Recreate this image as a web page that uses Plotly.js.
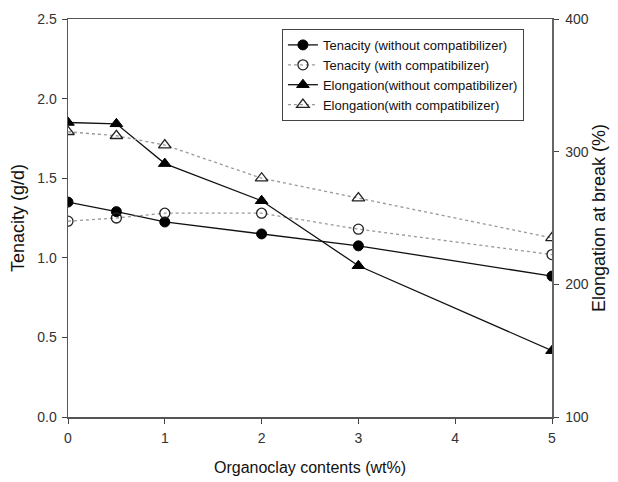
<!DOCTYPE html>
<html>
<head>
<meta charset="utf-8">
<script src="https://cdn.plot.ly/plotly-3.0.1.min.js"></script>
<style>html,body{margin:0;padding:0;background:#fff;}#chart{width:618px;height:482px;}</style>
</head>
<body>
<div id="chart"></div>
<script>
const contents = [0, 0.5, 1, 2, 3, 5];
const tenacityWithout = [1.35, 1.29, 1.225, 1.15, 1.075, 0.885];
const tenacityWith = [1.23, 1.25, 1.28, 1.28, 1.18, 1.02];
const elongationWithout = [322, 321, 291, 263, 214, 150];
const elongationWith = [315, 312, 305, 280, 265, 235];
const seriesNames = [
  'Tenacity (without compatibilizer)',
  'Tenacity (with compatibilizer)',
  'Elongation(without compatibilizer)',
  'Elongation(with compatibilizer)'
];

const solid = {color: '#111', width: 1.3, dash: 'solid'};
const dotted = {color: '#999', width: 1.3, dash: 'dot'};

const traces = [
  {x: contents, y: tenacityWithout, name: seriesNames[0], mode: 'lines+markers', yaxis: 'y',
   line: solid, marker: {symbol: 'circle', size: 10, color: '#000', line: {color: '#000', width: 1}}},
  {x: contents, y: tenacityWith, name: seriesNames[1], mode: 'lines+markers', yaxis: 'y',
   line: dotted, marker: {symbol: 'circle-open', size: 10, color: '#222', line: {color: '#222', width: 1.3}}},
  {x: contents, y: elongationWithout, name: seriesNames[2], mode: 'lines+markers', yaxis: 'y2',
   line: solid, marker: {symbol: 'triangle-up', size: 11, color: '#000', line: {color: '#000', width: 1}}},
  {x: contents, y: elongationWith, name: seriesNames[3], mode: 'lines+markers', yaxis: 'y2',
   line: dotted, marker: {symbol: 'triangle-up-open', size: 11, color: '#222', line: {color: '#222', width: 1.3}}}
];

const fam = 'Liberation Sans, Arial, sans-serif';
const axisFont = {family: fam, size: 14, color: '#333'};
const yTitleFont = {family: fam, size: 18, color: '#111'};
const xTitleFont = {family: fam, size: 16, color: '#111'};

const layout = {
  width: 618, height: 482,
  margin: {l: 68, r: 66, t: 19, b: 65},
  paper_bgcolor: '#fff', plot_bgcolor: '#fff',
  showlegend: true,
  font: axisFont,
  xaxis: {
    range: [0, 5], tickvals: [0, 1, 2, 3, 4, 5], ticks: 'outside', ticklen: 5, tickwidth: 1, tickcolor: '#444',
    ticklabelstandoff: 3,
    showgrid: false, zeroline: false, showline: true, linecolor: '#555', linewidth: 1.5, mirror: true,
    tickfont: axisFont, title: {text: 'Organoclay contents (wt%)', font: xTitleFont, standoff: 16}
  },
  yaxis: {
    range: [0, 2.5], tickvals: [0, 0.5, 1, 1.5, 2, 2.5], tickformat: '.1f', ticks: 'outside', ticklen: 5, tickwidth: 1, tickcolor: '#444',
    ticklabelstandoff: 2,
    showgrid: false, zeroline: false, showline: true, linecolor: '#555', linewidth: 1.5,
    tickfont: axisFont, title: {text: 'Tenacity (g/d)', font: yTitleFont, standoff: 8}
  },
  yaxis2: {
    range: [100, 400], tickvals: [100, 200, 300, 400], overlaying: 'y', side: 'right', ticks: 'outside', ticklen: 5, tickwidth: 1, tickcolor: '#444',
    ticklabelstandoff: 4,
    showgrid: false, zeroline: false, showline: true, linecolor: '#666', linewidth: 1.5,
    tickfont: axisFont, title: {text: 'Elongation at break (%)', font: yTitleFont, standoff: 3}
  },
  legend: {
    x: 0.442, y: 0.975, xanchor: 'left', yanchor: 'top',
    bgcolor: '#fff', bordercolor: '#444', borderwidth: 1,
    font: {family: fam, size: 13, color: '#111'},
    tracegroupgap: 0, itemwidth: 30
  }
};

Plotly.newPlot('chart', traces, layout, {displayModeBar: false, staticPlot: true});
</script>
</body>
</html>
